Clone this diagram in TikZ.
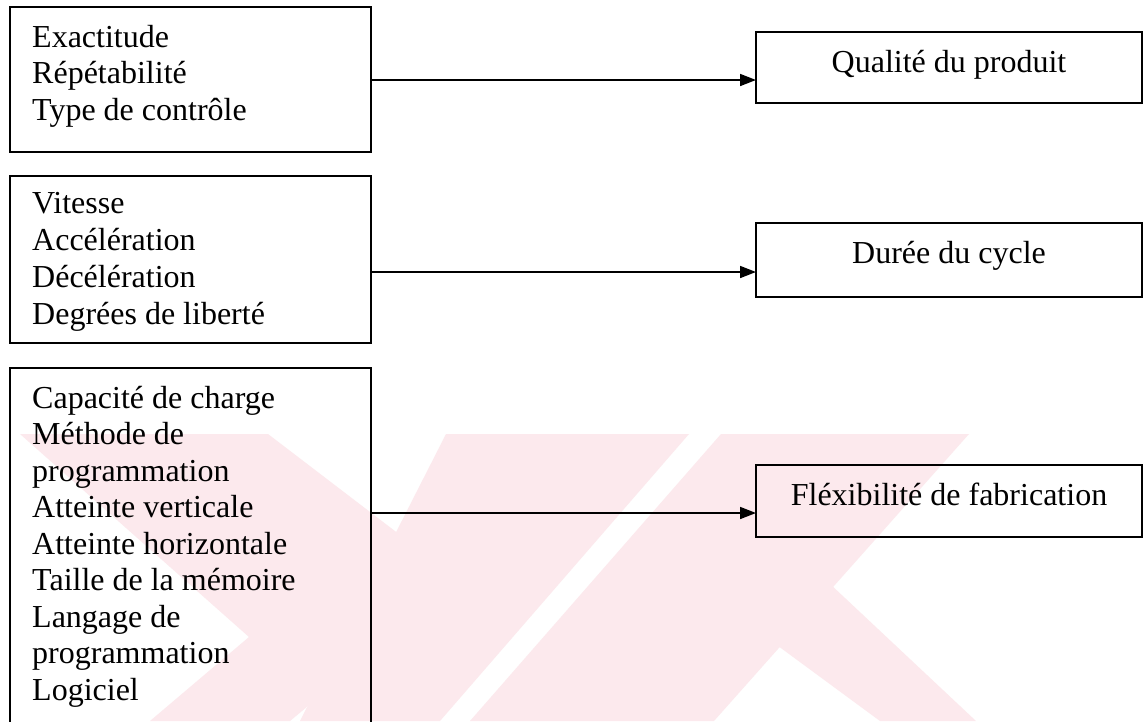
\documentclass[tikz,border=0pt]{standalone}
\usepackage{fontspec}
\setmainfont{Liberation Serif}
\usetikzlibrary{arrows.meta}
\definecolor{wmpink}{RGB}{252,233,237}
\tikzset{
  frame/.style={draw=black, line width=1.7pt, fill=none, inner sep=0pt, outer sep=0pt, anchor=north west},
  itemtxt/.style={anchor=base west, inner sep=0pt, font=\fontsize{32}{36}\selectfont},
  restxt/.style={anchor=base, inner sep=0pt, font=\fontsize{32}{36}\selectfont},
  arr/.style={line width=1.7pt, -{Triangle[length=16pt,width=12pt]}},
  wm/.style={fill=wmpink, draw=none}
}
\begin{document}
\begin{tikzpicture}[x=1pt,y=-1pt]
\clip (0,0) rectangle (1143,721);
\fill[white] (0,0) rectangle (1143,721);
% faint background watermark
\fill[wm] (20,434) -- (268,434) -- (459,580) -- (290,721) -- (150,721) -- (249,637) -- cycle;
\fill[wm] (446,434) -- (689,434) -- (440,721) -- (300,721) -- cycle;
\fill[wm] (721,434) -- (969,434) -- (714,721) -- (470,721) -- cycle;
\fill[wm] (770,640) -- (829,583) -- (976,721) -- (880,721) -- cycle;
% left boxes
\node[frame, minimum width=361pt, minimum height=145pt] (b1) at (10,7) {};
\node[frame, minimum width=361pt, minimum height=167pt] (b2) at (10,176) {};
\node[frame, minimum width=361pt, minimum height=400pt] (b3) at (10,368) {};
% right boxes
\node[frame, fill=white, minimum width=386pt, minimum height=71pt] (r1) at (756,32) {};
\node[frame, fill=white, minimum width=386pt, minimum height=74pt] (r2) at (756,223) {};
\node[frame, minimum width=386pt, minimum height=72pt] (r3) at (756,465) {};
% left texts
\node[itemtxt] (t11) at (32,47) {Exactitude};
\node[itemtxt] (t12) at (32,83.6) {Répétabilité};
\node[itemtxt] (t13) at (32,120.2) {Type de contrôle};
\node[itemtxt] (t21) at (32,213) {Vitesse};
\node[itemtxt] (t22) at (32,250.2) {Accélération};
\node[itemtxt] (t23) at (32,287.4) {Décélération};
\node[itemtxt] (t24) at (32,324.6) {Degrées de liberté};
\node[itemtxt] (t31) at (32,408) {Capacité de charge};
\node[itemtxt] (t32) at (32,444.5) {Méthode de};
\node[itemtxt] (t33) at (32,481) {programmation};
\node[itemtxt] (t34) at (32,517.5) {Atteinte verticale};
\node[itemtxt] (t35) at (32,554) {Atteinte horizontale};
\node[itemtxt] (t36) at (32,590.5) {Taille de la mémoire};
\node[itemtxt] (t37) at (32,627) {Langage de};
\node[itemtxt] (t38) at (32,663.5) {programmation};
\node[itemtxt] (t39) at (32,700) {Logiciel};
% right texts
\node[restxt] (q1) at (949,72) {Qualité du produit};
\node[restxt] (q2) at (949,263) {Durée du cycle};
\node[restxt] (q3) at (949,505) {Fléxibilité de fabrication};
% connectors
\coordinate (y1) at (0,80);
\coordinate (y2) at (0,272);
\coordinate (y3) at (0,513);
\draw[arr] (b1.east |- y1) -- (r1.west |- y1);
\draw[arr] (b2.east |- y2) -- (r2.west |- y2);
\draw[arr] (b3.east |- y3) -- (r3.west |- y3);
\end{tikzpicture}
\end{document}
